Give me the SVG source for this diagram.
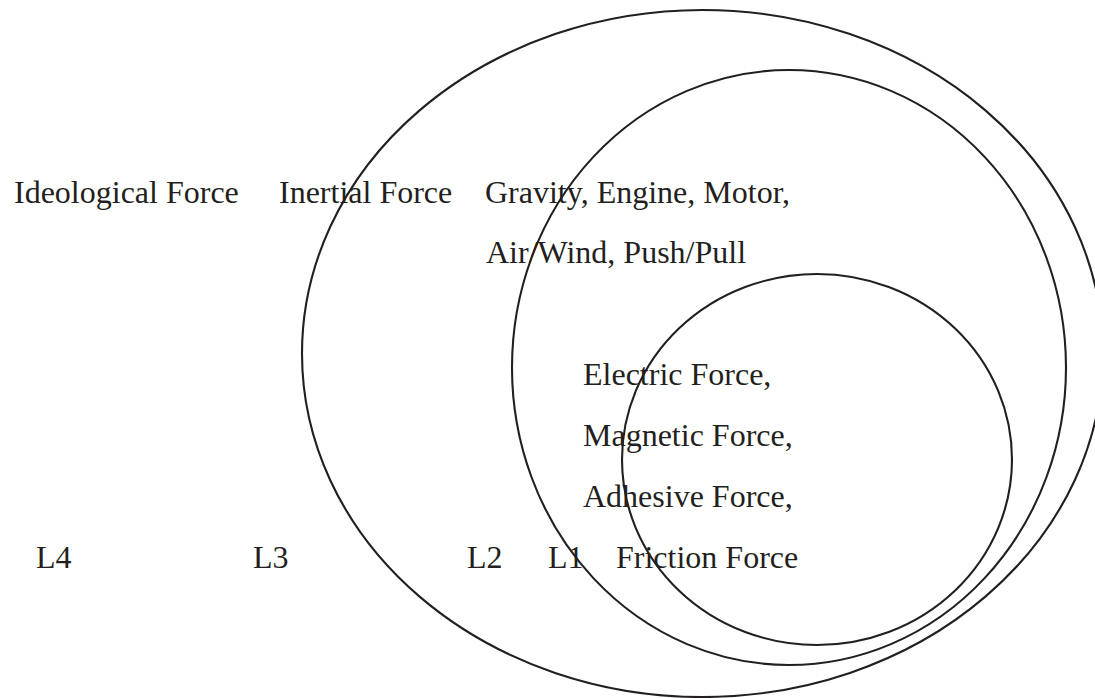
<svg xmlns="http://www.w3.org/2000/svg" width="1095" height="698" viewBox="0 0 1095 698">
<style>
.ring{fill:none;stroke:#231f20;stroke-width:2.1}
.t{font-family:"Liberation Serif","Times New Roman",serif;font-size:32px;fill:#231f20}
</style>
<rect width="1095" height="698" fill="#ffffff"/>
<g id="L3-ring"><ellipse class="ring" cx="702.5" cy="353.5" rx="400.5" ry="343.5"/></g>
<g id="L2-ring"><ellipse class="ring" cx="789" cy="367.5" rx="277" ry="297.5"/></g>
<g id="L1-ring"><ellipse class="ring" cx="817" cy="459.5" rx="195" ry="185.5"/></g>
<g id="labels-top">
<text class="t" x="14" y="203">Ideological Force</text>
<text class="t" x="279" y="203">Inertial Force</text>
<text class="t" x="485" y="203">Gravity, Engine, Motor,</text>
<text class="t" x="486" y="263">Air/Wind, Push/Pull</text>
</g>
<g id="labels-inner">
<text class="t" x="583" y="385">Electric Force,</text>
<text class="t" x="583" y="446">Magnetic Force,</text>
<text class="t" x="583" y="507">Adhesive Force,</text>
<text class="t" x="616" y="568">Friction Force</text>
</g>
<g id="levels">
<text class="t" x="36" y="568">L4</text>
<text class="t" x="253" y="568">L3</text>
<text class="t" x="467" y="568">L2</text>
<text class="t" x="548" y="568">L1</text>
</g>
<g id="connectors"/>
</svg>
